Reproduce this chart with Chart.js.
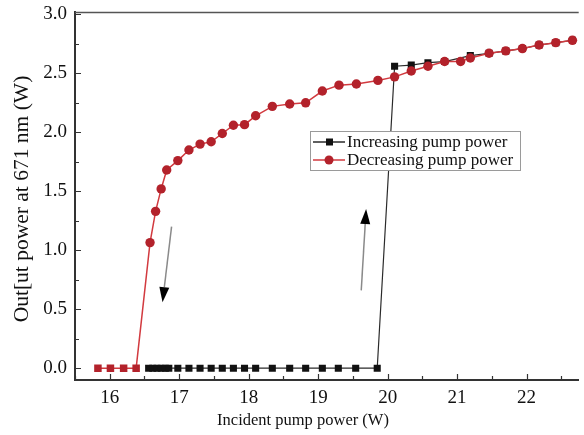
<!DOCTYPE html>
<html>
<head>
<meta charset="utf-8">
<script src="https://cdn.jsdelivr.net/npm/chart.js@4.4.1/dist/chart.umd.min.js"></script>
<style>
  html, body { margin: 0; padding: 0; background: #fff; }
  #wrap { width: 584px; height: 435px; }
</style>
</head>
<body>
<div id="wrap"><canvas id="chart" width="584" height="435"></canvas></div>
<script>
// ===== DADOS =====
const incX = [16.56, 16.62, 16.68, 16.74, 16.80, 16.85, 16.98, 17.14, 17.30, 17.46, 17.62, 17.78, 17.94, 18.10,
              18.34, 18.59, 18.82, 19.06, 19.29, 19.54, 19.85,
              20.10, 20.34, 20.58, 20.82, 21.19, 21.46, 21.70, 21.94, 22.18, 22.42, 22.66];
const incY = [0, 0, 0, 0, 0, 0, 0, 0, 0, 0, 0, 0, 0, 0,
              0, 0, 0, 0, 0, 0, 0,
              2.56, 2.57, 2.59, 2.60, 2.65, 2.67, 2.69, 2.71, 2.74, 2.76, 2.78];

const decX = [15.83, 16.01, 16.20, 16.38, 16.58, 16.66, 16.74, 16.82, 16.98, 17.14, 17.30, 17.46, 17.62, 17.78,
              17.94, 18.10, 18.34, 18.59, 18.82, 19.06, 19.30, 19.55, 19.86, 20.10, 20.34, 20.58, 20.82,
              21.05, 21.19, 21.46, 21.70, 21.94, 22.18, 22.42, 22.66];
const decY = [0, 0, 0, 0, 1.065, 1.33, 1.52, 1.68, 1.76, 1.85, 1.90, 1.92, 1.99, 2.06,
              2.065, 2.14, 2.22, 2.24, 2.25, 2.35, 2.40, 2.41, 2.44, 2.47, 2.52, 2.56, 2.60,
              2.60, 2.63, 2.67, 2.69, 2.71, 2.74, 2.76, 2.78];

const xTicks = [16, 17, 18, 19, 20, 21, 22];
const yTicks = [0, 0.5, 1.0, 1.5, 2.0, 2.5, 3.0];

const seriesNames = ['Increasing pump power', 'Decreasing pump power'];
const xTitle = 'Incident pump power (W)';
const yTitle = 'Out[ut power at 671 nm (W)';

// setas (coordenadas em unidades dos eixos)
const arrowDown = { from: [16.89, 1.20], to: [16.76, 0.56] };
const arrowUp = { from: [19.62, 0.66], to: [19.69, 1.35] };

const SERIF = '"Liberation Serif", "DejaVu Serif", serif';
const BLACK = '#111111';
const RED = '#b3222b';

// Ticks internos, moldura, títulos e setas
const decorPlugin = {
    id: 'decor',
    beforeDatasetsDraw(chart) {
        const { ctx, chartArea: a, scales: { x, y } } = chart;
        ctx.save();
        // moldura superior
        ctx.strokeStyle = '#555';
        ctx.lineWidth = 1.5;
        ctx.beginPath();
        ctx.moveTo(a.left, a.top + 0.5);
        ctx.lineTo(a.right, a.top + 0.5);
        ctx.stroke();

        // ticks internos
        ctx.strokeStyle = '#333';
        ctx.lineWidth = 1.2;
        ctx.beginPath();
        for (let v = 15.5; v <= 22.75; v += 0.5) {
            const px = Math.round(x.getPixelForValue(v)) + 0.5;
            const len = Number.isInteger(v) ? 6 : 4;
            ctx.moveTo(px, a.bottom);
            ctx.lineTo(px, a.bottom - len);
        }
        for (let v = 0; v <= 3.0001; v += 0.25) {
            const py = Math.round(y.getPixelForValue(v)) + 0.5;
            const len = (Math.round(v * 4) % 2 === 0) ? 6 : 4;
            ctx.moveTo(a.left, py);
            ctx.lineTo(a.left + len, py);
        }
        ctx.stroke();

        // setas
        [arrowDown, arrowUp].forEach(ar => {
            const x1 = x.getPixelForValue(ar.from[0]), y1 = y.getPixelForValue(ar.from[1]);
            const x2 = x.getPixelForValue(ar.to[0]), y2 = y.getPixelForValue(ar.to[1]);
            const ang = Math.atan2(y2 - y1, x2 - x1);
            const head = 15, hw = 5;
            const bx = x2 - head * Math.cos(ang), by = y2 - head * Math.sin(ang);
            ctx.strokeStyle = '#8a8a8a';
            ctx.lineWidth = 1.5;
            ctx.beginPath();
            ctx.moveTo(x1, y1);
            ctx.lineTo(bx, by);
            ctx.stroke();
            ctx.fillStyle = '#000';
            ctx.beginPath();
            ctx.moveTo(x2, y2);
            ctx.lineTo(bx + hw * Math.sin(ang), by - hw * Math.cos(ang));
            ctx.lineTo(bx - hw * Math.sin(ang), by + hw * Math.cos(ang));
            ctx.closePath();
            ctx.fill();
        });
        ctx.restore();
    },
    afterDatasetsDraw(chart) {
        const { ctx } = chart;
        ctx.save();
        // legenda
        const lx = 310, ly = 131, lw = 210, lh = 39;
        ctx.fillStyle = '#fff';
        ctx.fillRect(lx, ly, lw, lh);
        ctx.strokeStyle = '#9a9a9a';
        ctx.lineWidth = 1;
        ctx.strokeRect(lx + 0.5, ly + 0.5, lw, lh);
        chart.data.datasets.forEach((ds, i) => {
            const cy = ly + 11 + i * 18;
            ctx.strokeStyle = ds.borderColor;
            ctx.lineWidth = 1.5;
            ctx.beginPath();
            ctx.moveTo(lx + 3, cy);
            ctx.lineTo(lx + 35, cy);
            ctx.stroke();
            ctx.fillStyle = ds.pointBackgroundColor;
            if (i === 0) {
                ctx.fillRect(lx + 16, cy - 3.5, 7, 7);
            } else {
                ctx.beginPath();
                ctx.arc(lx + 19, cy, 4.5, 0, Math.PI * 2);
                ctx.fill();
            }
            ctx.fillStyle = '#111';
            ctx.font = '17px ' + SERIF;
            ctx.textAlign = 'left';
            ctx.textBaseline = 'middle';
            ctx.fillText(ds.label, lx + 37, cy + 1);
        });

        // títulos dos eixos
        ctx.fillStyle = '#111';
        ctx.font = '16.5px ' + SERIF;
        ctx.textAlign = 'center';
        ctx.textBaseline = 'middle';
        ctx.fillText(xTitle, 303, 421);
        ctx.translate(22, 199);
        ctx.rotate(-Math.PI / 2);
        ctx.font = '21.5px ' + SERIF;
        ctx.fillText(yTitle, 0, 0);
        ctx.restore();
    }
};

const ctx = document.getElementById('chart').getContext('2d');
new Chart(ctx, {
    type: 'scatter',
    data: {
        datasets: [
            {
                label: seriesNames[0],
                data: incX.map((v, i) => ({ x: v, y: incY[i] })),
                showLine: true,
                borderColor: '#2a2a2a',
                borderWidth: 1.2,
                pointStyle: 'rect',
                pointRadius: 5,
                pointBackgroundColor: BLACK,
                pointBorderWidth: 0,
                order: 2
            },
            {
                label: seriesNames[1],
                data: decX.map((v, i) => ({ x: v, y: decY[i] })),
                showLine: true,
                borderColor: '#d23a3f',
                borderWidth: 1.5,
                pointStyle: c => (c.raw && c.raw.y === 0) ? 'rect' : 'circle',
                pointRadius: c => (c.raw && c.raw.y === 0) ? 5.3 : 4.7,
                pointBackgroundColor: RED,
                pointBorderWidth: 0,
                order: 1
            }
        ]
    },
    options: {
        responsive: false,
        animation: false,
        layout: { padding: { left: 0, right: 0, top: 12, bottom: 0 } },
        plugins: {
            legend: { display: false },
            tooltip: { enabled: false }
        },
        scales: {
            x: {
                type: 'linear',
                min: 15.5,
                max: 22.75,
                afterBuildTicks: s => { s.ticks = xTicks.map(v => ({ value: v })); },
                afterFit: s => { s.height = 55; s.paddingLeft = 0; s.paddingRight = 0; },
                grid: { display: false, drawTicks: false },
                border: { display: true, color: '#333', width: 2 },
                ticks: {
                    color: '#111',
                    padding: 7,
                    maxRotation: 0,
                    font: { family: SERIF, size: 19 },
                    callback: v => String(v)
                }
            },
            y: {
                type: 'linear',
                min: -0.1,
                max: 3.02,
                afterBuildTicks: s => { s.ticks = yTicks.map(v => ({ value: v })); },
                afterFit: s => { s.width = 75; s.paddingTop = 0; s.paddingBottom = 0; },
                grid: { display: false, drawTicks: false },
                border: { display: true, color: '#333', width: 2 },
                ticks: {
                    color: '#111',
                    padding: 8,
                    font: { family: SERIF, size: 19 },
                    callback: v => v.toFixed(1)
                }
            }
        }
    },
    plugins: [decorPlugin]
});
</script>
</body>
</html>
